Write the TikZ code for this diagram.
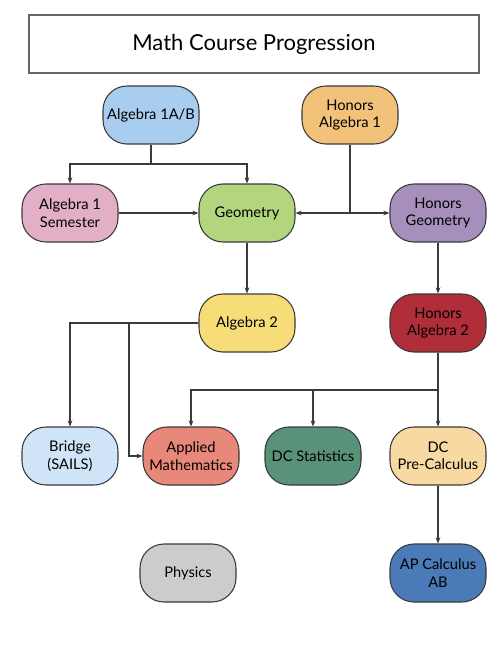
\documentclass[tikz,border=0pt]{standalone}
\usepackage{fontspec}
\setmainfont{Lato}
\usetikzlibrary{arrows.meta}
\definecolor{cA}{HTML}{A9CDEF}
\definecolor{cB}{HTML}{F2C27A}
\definecolor{cC}{HTML}{E2AFC7}
\definecolor{cD}{HTML}{B3D57E}
\definecolor{cE}{HTML}{A68FBA}
\definecolor{cF}{HTML}{F7DD78}
\definecolor{cG}{HTML}{B02D3A}
\definecolor{cH}{HTML}{CFE4F7}
\definecolor{cI}{HTML}{E8887A}
\definecolor{cJ}{HTML}{5A9279}
\definecolor{cK}{HTML}{F7D9A1}
\definecolor{cL}{HTML}{CCCCCC}
\definecolor{cM}{HTML}{4A7AB7}
\definecolor{edge}{HTML}{3A3A3A}
\tikzset{
  course/.style={draw=edge, line width=0.8pt, rounded corners=18pt, minimum width=72pt, minimum height=43.5pt, align=center, font=\fontsize{11}{13}\selectfont, inner sep=1pt},
  link/.style={draw=edge, line width=0.8pt, -{Stealth[length=4.5pt,width=3.5pt]}},
  plain/.style={draw=edge, line width=0.8pt}
}
\begin{document}
\begin{tikzpicture}[x=0.75pt,y=-0.75pt]
\useasboundingbox (0,0) rectangle (500,647);
\node[draw=gray!80!black, line width=1.1pt, minimum width=337.5pt, minimum height=43.5pt, font=\fontsize{16.5}{19}\selectfont] (title) at (254,44) {Math Course Progression};
\node[course, fill=cA] (a1ab) at (151,115) {Algebra 1A/B};
\node[course, fill=cB] (ha1) at (350,115) {Honors\\Algebra 1};
\node[course, fill=cC] (a1s) at (70,213) {Algebra 1\\Semester};
\node[course, fill=cD] (geo) at (247,213) {Geometry};
\node[course, fill=cE] (hgeo) at (438,213) {Honors\\Geometry};
\node[course, fill=cF] (a2) at (247,323) {Algebra 2};
\node[course, fill=cG] (ha2) at (438,323) {Honors\\Algebra 2};
\node[course, fill=cH] (bridge) at (70,456) {Bridge\\(SAILS)};
\node[course, fill=cI] (appl) at (191,456) {Applied\\Mathematics};
\node[course, fill=cJ] (stat) at (313,456) {DC Statistics};
\node[course, fill=cK] (pre) at (438,456) {DC\\Pre-Calculus};
\node[course, fill=cL] (phys) at (188,573) {Physics};
\node[course, fill=cM] (calc) at (438,573) {AP Calculus\\AB};
% Algebra 1A/B splits
\coordinate (j1) at (151,164);
\draw[plain] (a1ab.south) -- (j1);
\draw[link] (j1) -| (a1s.north);
\draw[link] (j1) -| (geo.north);
\draw[link] (a1s.east) -- (geo.west);
% Honors Algebra 1 splits
\coordinate (j2) at (350,213);
\draw[plain] (ha1.south) -- (j2);
\draw[link] (j2) -- (geo.east);
\draw[link] (j2) -- (hgeo.west);
\draw[link] (geo.south) -- (a2.north);
\draw[link] (hgeo.south) -- (ha2.north);
% Algebra 2 splits
\coordinate (j3) at (129,323);
\draw[link] (a2.west) -- (j3) -| (bridge.north);
\draw[link] (j3) |- (appl.west);
% Honors Algebra 2 splits
\coordinate (j4) at (438,390);
\draw[link] (ha2.south) -- (pre.north);
\draw[link] (j4) -| (appl.north);
\draw[link] (j4) -| (stat.north);
\draw[link] (pre.south) -- (calc.north);
\end{tikzpicture}
\end{document}
